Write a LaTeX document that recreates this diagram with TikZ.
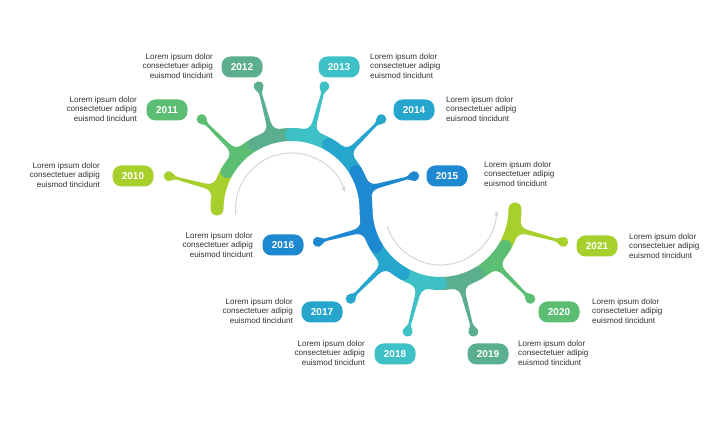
\documentclass[tikz,border=0pt]{standalone}
\usepackage{fontspec}
\setmainfont{Liberation Sans}
\usetikzlibrary{arrows.meta,calc}
\definecolor{clime}{HTML}{A8D02C}
\definecolor{cgreen}{HTML}{5BBE73}
\definecolor{cteal}{HTML}{5BAF8E}
\definecolor{ccyan}{HTML}{3DC0C6}
\definecolor{cbcyan}{HTML}{27A6CD}
\definecolor{cblue}{HTML}{1E88D0}
\definecolor{txt}{HTML}{333333}
\definecolor{garrow}{HTML}{D2D2D2}
\newcommand\myspoke[3]{%
  \fill[#3,shift={(#1)},rotate=#2] (74,10) -- (80.2,10) .. controls (81,5.5) and (84.5,2.3) .. (90,2.3) -- (118.5,1.4) .. controls (121,1.4) and (122,2.6) .. (123.4,3.6) -- (123.4,-3.6) .. controls (122,-2.6) and (121,-1.4) .. (118.5,-1.4) -- (90,-2.3) .. controls (84.5,-2.3) and (81,-5.5) .. (80.2,-10) -- (74,-10) -- cycle;
  \fill[#3,shift={(#1)},rotate=#2] (127,0) circle[radius=5pt];
}
\def\R{74.5}
\begin{document}
\begin{tikzpicture}[x=1pt,y=1pt,
  seg/.style={line width=13pt, line cap=round},
  pill/.style={rounded corners=9pt, minimum width=41pt, minimum height=21pt, inner sep=0pt, text=white, font=\bfseries\fontsize{10}{12}\selectfont},
  descR/.style={anchor=east, align=right, inner sep=0pt, text=txt, font=\fontsize{8.1}{9.3}\selectfont},
  descL/.style={anchor=west, align=left, inner sep=0pt, text=txt, font=\fontsize{8.1}{9.3}\selectfont},
  guide/.style={draw=garrow, line width=0.9pt, -{Triangle[length=4.5pt,width=4pt]}}
]
\fill[white] (0,0) rectangle (728,422);
\useasboundingbox (0,0) rectangle (728,422);
\coordinate (C1) at (291.5,213);
\coordinate (C2) at (440.5,213);

% guide arrows
\draw[guide] ($(C1)+(186:56)$) arc[start angle=186,end angle=18,radius=56];
\draw[guide] ($(C2)+(198:56)$) arc[start angle=198,end angle=358,radius=56];

% spokes
\myspoke{C1}{165}{clime}
\myspoke{C1}{135}{cgreen}
\myspoke{C1}{105}{cteal}
\myspoke{C1}{75}{ccyan}
\myspoke{C1}{45}{cbcyan}
\myspoke{C1}{15}{cblue}
\myspoke{C2}{195}{cblue}
\myspoke{C2}{225}{cbcyan}
\myspoke{C2}{255}{ccyan}
\myspoke{C2}{285}{cteal}
\myspoke{C2}{315}{cgreen}
\myspoke{C2}{345}{clime}

% arc segments
\draw[seg,clime]  ($(C1)+(180:\R)$) arc[start angle=180,end angle=150,radius=\R];
\draw[seg,cgreen] ($(C1)+(150:\R)$) arc[start angle=150,end angle=120,radius=\R];
\draw[seg,cteal]  ($(C1)+(120:\R)$) arc[start angle=120,end angle=90,radius=\R];
\draw[seg,ccyan]  ($(C1)+(90:\R)$)  arc[start angle=90,end angle=60,radius=\R];
\draw[seg,cbcyan] ($(C1)+(60:\R)$)  arc[start angle=60,end angle=30,radius=\R];
\draw[seg,clime]  ($(C2)+(360:\R)$) arc[start angle=360,end angle=330,radius=\R];
\draw[seg,cgreen] ($(C2)+(330:\R)$) arc[start angle=330,end angle=300,radius=\R];
\draw[seg,cteal]  ($(C2)+(300:\R)$) arc[start angle=300,end angle=270,radius=\R];
\draw[seg,ccyan]  ($(C2)+(270:\R)$) arc[start angle=270,end angle=240,radius=\R];
\draw[seg,cbcyan] ($(C2)+(240:\R)$) arc[start angle=240,end angle=210,radius=\R];
\draw[seg,cblue]  ($(C1)+(30:\R)$) arc[start angle=30,end angle=0,radius=\R] arc[start angle=180,end angle=210,radius=\R];

% year pills
\node[pill,fill=clime]  (y2010) at (133,246) {2010};
\node[pill,fill=cgreen] (y2011) at (167,312) {2011};
\node[pill,fill=cteal]  (y2012) at (242,355) {2012};
\node[pill,fill=ccyan]  (y2013) at (339,355) {2013};
\node[pill,fill=cbcyan] (y2014) at (414,312) {2014};
\node[pill,fill=cblue]  (y2015) at (447,246) {2015};
\node[pill,fill=cblue]  (y2016) at (283,177) {2016};
\node[pill,fill=cbcyan] (y2017) at (322,110) {2017};
\node[pill,fill=ccyan]  (y2018) at (395,68) {2018};
\node[pill,fill=cteal]  (y2019) at (488,68) {2019};
\node[pill,fill=cgreen] (y2020) at (559,110) {2020};
\node[pill,fill=clime]  (y2021) at (597,176) {2021};

% descriptions
\node[descR] (t2010) at (100,247) {Lorem ipsum dolor\\consectetuer adipig\\euismod tincidunt};
\node[descR] (t2011) at (137,313) {Lorem ipsum dolor\\consectetuer adipig\\euismod tincidunt};
\node[descR] (t2012) at (213,356) {Lorem ipsum dolor\\consectetuer adipig\\euismod tincidunt};
\node[descL] (t2013) at (370,356) {Lorem ipsum dolor\\consectetuer adipig\\euismod tincidunt};
\node[descL] (t2014) at (446,313) {Lorem ipsum dolor\\consectetuer adipig\\euismod tincidunt};
\node[descL] (t2015) at (484,248) {Lorem ipsum dolor\\consectetuer adipig\\euismod tincidunt};
\node[descR] (t2016) at (253,177) {Lorem ipsum dolor\\consectetuer adipig\\euismod tincidunt};
\node[descR] (t2017) at (293,111) {Lorem ipsum dolor\\consectetuer adipig\\euismod tincidunt};
\node[descR] (t2018) at (365,69) {Lorem ipsum dolor\\consectetuer adipig\\euismod tincidunt};
\node[descL] (t2019) at (518,69) {Lorem ipsum dolor\\consectetuer adipig\\euismod tincidunt};
\node[descL] (t2020) at (592,111) {Lorem ipsum dolor\\consectetuer adipig\\euismod tincidunt};
\node[descL] (t2021) at (629,176) {Lorem ipsum dolor\\consectetuer adipig\\euismod tincidunt};
\end{tikzpicture}
\end{document}
